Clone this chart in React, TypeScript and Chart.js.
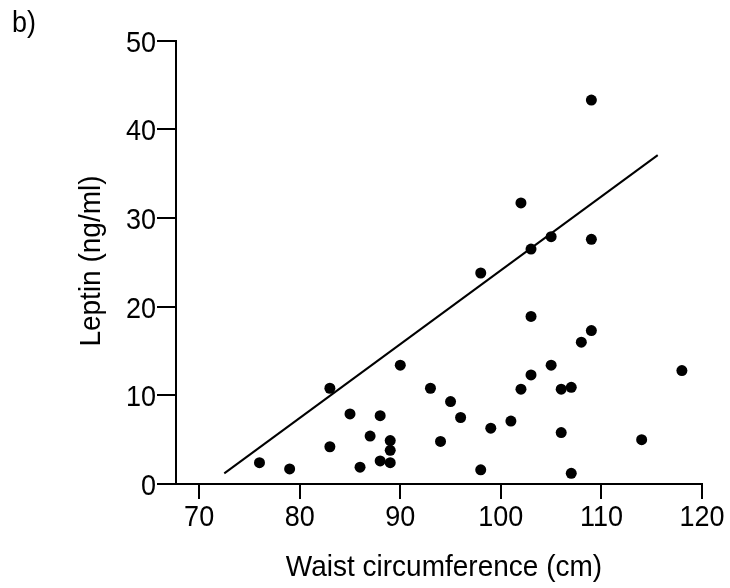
import React, { useEffect, useRef } from "react";
import { Chart, registerables } from "chart.js";

Chart.register(...registerables);

// Scatter data: waist circumference (cm) vs leptin (ng/ml)
const waist = [76, 79, 83, 83, 85, 86, 87, 88, 88, 89, 89, 89, 90, 93, 94, 95, 96, 98, 98, 99, 101, 102, 102, 103, 103, 103, 105, 105, 106, 106, 107, 107, 108, 109, 109, 109, 114, 118];
const leptin = [2.4, 1.7, 10.8, 4.2, 7.9, 1.9, 5.4, 7.7, 2.6, 4.9, 3.8, 2.4, 13.4, 10.8, 4.8, 9.3, 7.5, 23.8, 1.6, 6.3, 7.1, 31.7, 10.7, 26.5, 18.9, 12.3, 27.9, 13.4, 10.7, 5.8, 10.9, 1.2, 16.0, 43.3, 27.6, 17.3, 5.0, 12.8];

// Fitted line endpoints
const lineX = [72.5, 115.6];
const lineY = [1.2, 37.1];

// Axis ticks
const xTicks = [70, 80, 90, 100, 110, 120];
const yTicks = [0, 10, 20, 30, 40, 50];

const xTitle = "Waist circumference (cm)";
const yTitle = "Leptin (ng/ml)";
const panelLabel = "b)";

const FONT = '"Liberation Sans", Arial, sans-serif';
const STRETCH = 1.08;

const textPlugin = {
  id: "customText",
  afterDraw(chart: any) {
    const ctx = chart.ctx as CanvasRenderingContext2D;
    const xs = chart.scales.x;
    const ys = chart.scales.y;
    const draw = (txt: string, x: number, y: number, align: CanvasTextAlign, size: number, rot = 0) => {
      ctx.save();
      ctx.translate(x, y);
      if (rot) ctx.rotate(rot);
      ctx.scale(1, STRETCH);
      ctx.font = `${size}px ${FONT}`;
      ctx.fillStyle = "#000";
      ctx.textAlign = align;
      ctx.textBaseline = "alphabetic";
      ctx.fillText(txt, 0, 0);
      ctx.restore();
    };
    yTicks.forEach((v) => draw(String(v), 156, ys.getPixelForValue(v) + 11, "right", 27));
    xTicks.forEach((v) => draw(String(v), xs.getPixelForValue(v), 526, "center", 27));
    draw(xTitle, 444, 576, "center", 28);
    draw(yTitle, 100, 261, "center", 28, -Math.PI / 2);
    draw(panelLabel, 12, 32, "left", 27);
  },
};

export default function App() {
  const ref = useRef<HTMLCanvasElement | null>(null);

  useEffect(() => {
    if (!ref.current) return;
    const chart = new Chart(ref.current, {
      type: "scatter",
      data: {
        datasets: [
          {
            type: "scatter",
            data: waist.map((x, i) => ({ x, y: leptin[i] })),
            backgroundColor: "#000",
            borderWidth: 0,
            pointRadius: 5.5,
            pointHoverRadius: 5.5,
          },
          {
            type: "line",
            data: lineX.map((x, i) => ({ x, y: lineY[i] })),
            borderColor: "#000",
            borderWidth: 2,
            pointRadius: 0,
            fill: false,
            showLine: true,
          } as any,
        ],
      },
      options: {
        responsive: false,
        animation: false,
        devicePixelRatio: 1,
        layout: { padding: { top: 40.7, right: 28, left: 0, bottom: 0 } },
        plugins: { legend: { display: false }, tooltip: { enabled: false } },
        scales: {
          x: {
            type: "linear",
            min: 67.7,
            max: 120,
            afterBuildTicks: (s: any) => {
              s.ticks = xTicks.map((v) => ({ value: v }));
            },
            afterFit: (s: any) => {
              s.height = 104;
            },
            ticks: { display: false },
            grid: { display: true, drawOnChartArea: false, drawTicks: true, tickLength: 15, lineWidth: 2, color: "#000" },
            border: { display: true, width: 2, color: "#000" },
          },
          y: {
            type: "linear",
            min: 0,
            max: 50,
            afterBuildTicks: (s: any) => {
              s.ticks = yTicks.map((v) => ({ value: v }));
            },
            afterFit: (s: any) => {
              s.width = 176;
            },
            ticks: { display: false },
            grid: { display: true, drawOnChartArea: false, drawTicks: true, tickLength: 19, lineWidth: 2, color: "#000" },
            border: { display: true, width: 2, color: "#000" },
          },
        },
      },
      plugins: [textPlugin],
    });
    return () => chart.destroy();
  }, []);

  return (
    <div style={{ position: "fixed", left: 0, top: 0, width: 730, height: 588, background: "#fff" }}>
      <canvas ref={ref} width={730} height={588} style={{ width: 730, height: 588, display: "block" }} />
    </div>
  );
}
